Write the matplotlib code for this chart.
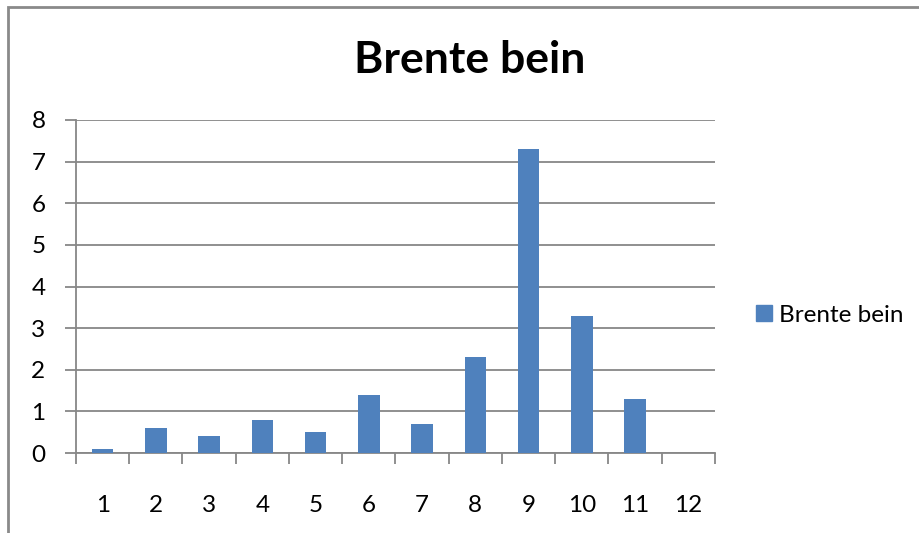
import matplotlib.pyplot as plt
from matplotlib.patches import Rectangle
from matplotlib.lines import Line2D

categories = [str(i) for i in range(1, 13)]
values = [0.1, 0.6, 0.4, 0.8, 0.5, 1.4, 0.7, 2.3, 7.3, 3.3, 1.3, 0.0]
series_name = 'Brente bein'
title = 'Brente bein'

plt.rcParams['font.family'] = ['Lato', 'DejaVu Sans']

fig = plt.figure(figsize=(9.2, 5.33), dpi=100)
ax = fig.add_axes([76/920, 80/533, (715-76)/920, (453-120)/533])

grid_col = '#878787'
bar_col = '#4F81BD'

x = list(range(len(categories)))
ax.bar(x, values, width=0.4, color=bar_col, zorder=3, label=series_name)

ax.set_xlim(-0.5, len(categories) - 0.5)
ax.set_ylim(0, 8)
ax.set_yticks(range(0, 9))
ax.set_xticks(x)
ax.set_xticklabels(categories)
ax.set_xticks([i - 0.5 for i in range(len(categories) + 1)], minor=True)

ax.yaxis.grid(True, color=grid_col, linewidth=1.3, zorder=0)
for s in ['top', 'right']:
    ax.spines[s].set_visible(False)
for s in ['left', 'bottom']:
    ax.spines[s].set_color(grid_col)
    ax.spines[s].set_linewidth(1.3)

ax.tick_params(axis='y', length=8, width=1.3, color=grid_col, labelsize=17.5, pad=14)
ax.tick_params(axis='x', which='major', length=0, labelsize=17.5, pad=30)
ax.tick_params(axis='x', which='minor', length=8, width=1.3, color=grid_col)

fig.text(470/920, 1 - 60/533, title, ha='center', va='center',
         fontsize=32, fontweight='bold')

handle = Line2D([], [], marker='s', linestyle='none', markersize=11,
                markerfacecolor=bar_col, markeredgecolor=bar_col)
fig.legend([handle], [series_name], loc='center left',
           bbox_to_anchor=(757/920, 1 - 315/533), frameon=False,
           borderpad=0, borderaxespad=0,
           fontsize=17.5, handletextpad=0.3, handlelength=0.6)

# chart frame, partly cut off on the right and bottom
fig.patches.append(Rectangle((8/920, -0.1), 1.2, 1 - 7/533 + 0.1,
                             transform=fig.transFigure, fill=False,
                             edgecolor='#8a8a8a', linewidth=2))

fig.savefig('out.png', dpi=100)
